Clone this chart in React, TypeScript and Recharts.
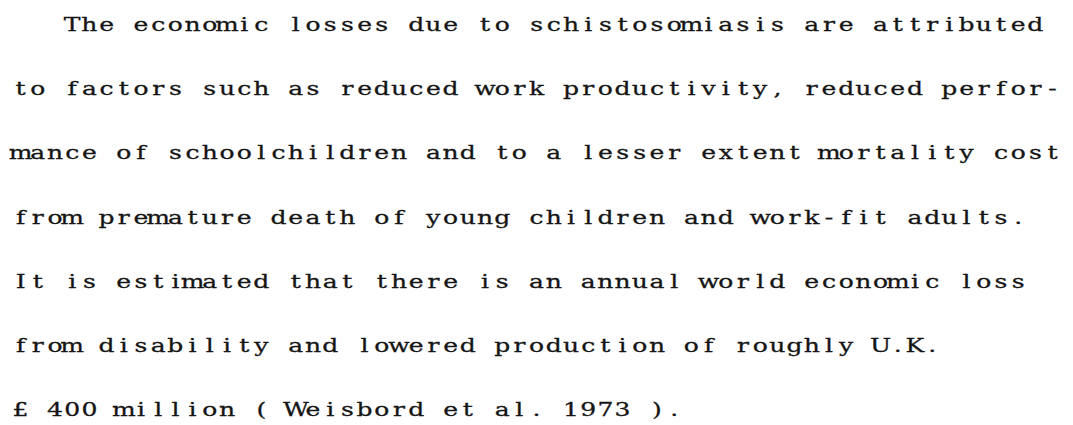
import React from "react";
import { Surface } from "recharts";

const lines = [
  "   The economic losses due to schistosomiasis are attributed",
  "to factors such as reduced work productivity, reduced perfor-",
  "mance of schoolchildren and to a lesser extent mortality cost",
  "from premature death of young children and work-fit adults.",
  "It is estimated that there is an annual world economic loss",
  "from disability and lowered production of roughly U.K.",
  "\u00a3 400 million ( Weisbord et al. 1973 ).",
];

const W = 1073;
const H = 425;
const FONT_SIZE = 19;
const ADVANCE = 17.2; // typewriter pitch
const STRETCH = 1.32; // typewriter glyphs are wide
const LEFT = 12;
const FIRST_BASELINE = 31;
const LEADING = 64.2;

// each character sits in its own fixed-width cell, like a typewriter
const cellXs = (line: string) =>
  Array.from(line)
    .map((_, j) => ((LEFT + (j + 0.5) * ADVANCE) / STRETCH).toFixed(2))
    .join(" ");

export default function App() {
  return (
    <div style={{ position: "absolute", left: 0, top: 0, width: W, height: H, background: "#fff" }}>
      <Surface width={W} height={H}>
        <g transform={`scale(${STRETCH},1)`}>
          {lines.map((line, i) => (
            <text
              key={i}
              x={cellXs(line)}
              y={FIRST_BASELINE + i * LEADING}
              textAnchor="middle"
              fontFamily="'DejaVu Serif', serif"
              fontSize={FONT_SIZE}
              fill="#151515"
              stroke="#151515"
              strokeWidth={0.3}
              style={{ whiteSpace: "pre" }}
            >
              {line}
            </text>
          ))}
        </g>
      </Surface>
    </div>
  );
}
